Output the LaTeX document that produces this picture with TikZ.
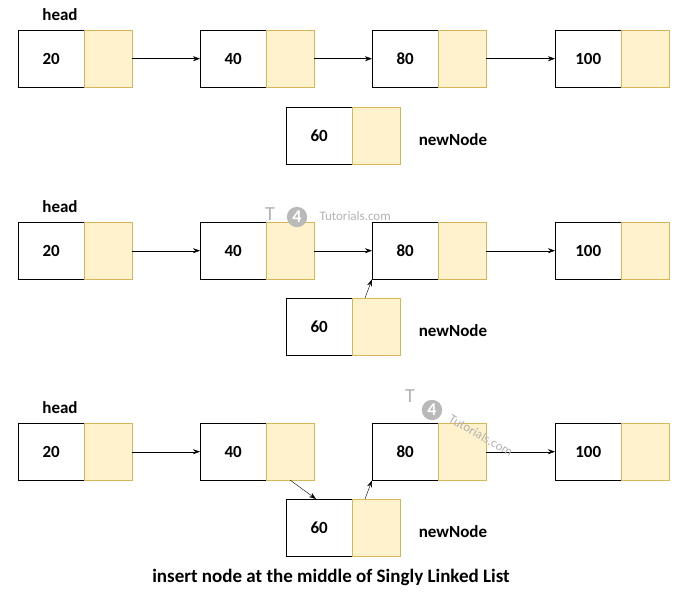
\documentclass[tikz,border=0pt]{standalone}
\usepackage{fontspec}
\setmainfont{Carlito}
\usetikzlibrary{arrows.meta}
\begin{document}
\begin{tikzpicture}[x=1pt,y=-1pt,
  big/.style={font=\bfseries\fontsize{17}{19}\selectfont},
  val/.style={draw=black,fill=white,minimum width=66pt,minimum height=57pt,inner sep=0pt,big,anchor=north west},
  ptr/.style={minimum width=48pt,minimum height=57pt,inner sep=0pt,anchor=north west},
  lbl/.style={big},
  arr/.style={-{Stealth[length=7pt,width=5pt]},black}]
\useasboundingbox (0,0) rectangle (685,602);
\definecolor{ybox}{HTML}{FFF2CC}\definecolor{yline}{HTML}{D6B656}
\tikzset{ptr/.append style={draw=yline,fill=ybox}}
\newcommand{\lnode}[4]{% name, value, x, y
  \node[val] (#1v) at (#3,#4) {#2};
  \node[ptr] (#1p) at (#3+66,#4) {};}
\foreach \r/\y/\ny in {a/30/107,b/222/298,c/423/499}{
  \lnode{\r1}{20}{18}{\y}
  \lnode{\r2}{40}{200}{\y}
  \lnode{\r3}{80}{372}{\y}
  \lnode{\r4}{100}{555}{\y}
  \lnode{\r n}{60}{286}{\ny}
  \node[lbl] (\r h) at (60,\y-15) {head};
  \node[lbl] (\r nl) at (453,\ny+33) {newNode};
}
\draw[arr] (a1p.east) -- (a2v.west);
\draw[arr] (a2p.east) -- (a3v.west);
\draw[arr] (a3p.east) -- (a4v.west);
\draw[arr] (b1p.east) -- (b2v.west);
\draw[arr] (b2p.east) -- (b3v.west);
\draw[arr] (b3p.east) -- (b4v.west);
\coordinate (bs) at (365,298);
\draw[arr] (bs) -- (b3v.south west);
\draw[arr] (c1p.east) -- (c2v.west);
\draw[arr] (c3p.east) -- (c4v.west);
\coordinate (cs) at (290,480);
\coordinate (ce) at (316,499);
\draw[arr] (cs) -- (ce);
\coordinate (cs2) at (365,499);
\draw[arr] (cs2) -- (c3v.south west);
% watermarks
\node[text=gray!60,font=\fontsize{20}{20}\selectfont] (w1t) at (270,214) {T};
\node[circle,fill=gray!55,text=white,font=\bfseries\fontsize{18}{18}\selectfont,inner sep=2pt] (w1c) at (297,217) {4};
\node[text=gray!60,font=\fontsize{13}{13}\selectfont,anchor=west] (w1s) at (316,216) {Tutorials.com};
\node[text=gray!60,font=\fontsize{20}{20}\selectfont] (w2t) at (410,396) {T};
\node[circle,fill=gray!55,text=white,font=\bfseries\fontsize{18}{18}\selectfont,inner sep=2pt] (w2c) at (432,410) {4};
\node[text=gray!60,font=\fontsize{13}{13}\selectfont,rotate=-30,anchor=north west,inner sep=1pt] (w2s) at (452,412) {Tutorials.com};
\node[font=\bfseries\fontsize{19}{21}\selectfont] (cap) at (331,577) {insert node at the middle of Singly Linked List};
\end{tikzpicture}
\end{document}
